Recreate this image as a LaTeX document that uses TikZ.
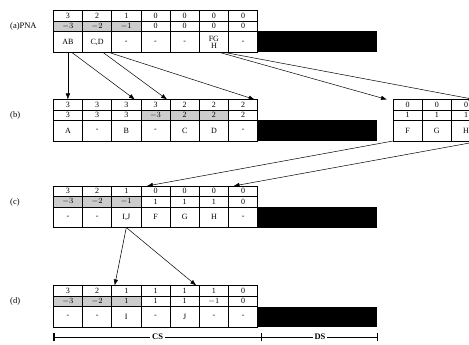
\documentclass[tikz,border=0pt]{standalone}
\usepackage{fontspec}
\setmainfont{Liberation Serif}
\usetikzlibrary{arrows.meta}
\newcommand\cw{29.2}
\tikzset{
  cell/.style={draw, line width=0.6pt, anchor=north west, minimum width=29.2pt, inner sep=0pt, outer sep=0pt, align=center, font=\fontsize{8}{7}\selectfont},
  shd/.style={fill=gray!40},
  nsh/.style={fill=white},
  conn/.style={line width=0.5pt, -{Latex[length=6pt,width=4.5pt]}},
  lbl/.style={anchor=west, font=\fontsize{8.5}{9}\selectfont, inner sep=0pt},
  blk/.style={fill=black}
}
% #1 prefix, #2 x0, #3 y top, #4 height, #5 value/style list
\newcommand\trow[5]{%
  \foreach \v/\s [count=\i] in {#5} {%
    \node[cell,\s,minimum height=#4pt] (#1-\i) at ({#2+(\i-1)*\cw},#3) {\v};}}
\begin{document}
\begin{tikzpicture}[x=1pt,y=-1pt]
\useasboundingbox (0,0) rectangle (469,345);
% (a)
\node[lbl] (la) at (10,26) {(a)PNA};
\trow{a1}{53.3}{10.5}{10.5}{3/nsh,2/nsh,1/nsh,0/nsh,0/nsh,0/nsh,0/nsh}
\trow{a2}{53.3}{21}{10.5}{{$-3$}/shd,{$-2$}/shd,{$-1$}/shd,0/nsh,0/nsh,0/nsh,0/nsh}
\trow{a3}{53.3}{31.5}{21}{AB/nsh,{C,D}/nsh,-/nsh,-/nsh,-/nsh,{FG\\H}/nsh,-/nsh}
\fill[blk] (257.7,31.5) rectangle (377,52.5);
% (b)
\node[lbl] (lb) at (10,115) {(b)};
\trow{b1}{53.3}{99.5}{10.5}{3/nsh,3/nsh,3/nsh,3/nsh,2/nsh,2/nsh,2/nsh}
\trow{b2}{53.3}{110}{10.5}{3/nsh,3/nsh,3/nsh,{$-3$}/shd,2/shd,2/shd,2/nsh}
\trow{b3}{53.3}{120.5}{20.5}{A/nsh,-/nsh,B/nsh,-/nsh,C/nsh,D/nsh,-/nsh}
\fill[blk] (257.7,120.5) rectangle (377,141);
% FGH table
\trow{f1}{393}{99.5}{10.5}{0/nsh,0/nsh,0/nsh}
\trow{f2}{393}{110}{10.5}{1/nsh,1/nsh,1/nsh}
\trow{f3}{393}{120.5}{20.5}{F/nsh,G/nsh,H/nsh}
% (c)
\node[lbl] (lc) at (10,202) {(c)};
\trow{c1}{53.3}{186}{10.5}{3/nsh,2/nsh,1/nsh,0/nsh,0/nsh,0/nsh,0/nsh}
\trow{c2}{53.3}{196.5}{10.5}{{$-3$}/shd,{$-2$}/shd,{$-1$}/shd,1/nsh,1/nsh,1/nsh,0/nsh}
\trow{c3}{53.3}{207}{20.5}{-/nsh,-/nsh,{I,J}/nsh,F/nsh,G/nsh,H/nsh,-/nsh}
\fill[blk] (257.7,207) rectangle (377,227.5);
% (d)
\node[lbl] (ld) at (10,301) {(d)};
\trow{d1}{53.3}{285.5}{10.5}{3/nsh,2/nsh,1/nsh,1/nsh,1/nsh,1/nsh,0/nsh}
\trow{d2}{53.3}{296}{10.5}{{$-3$}/shd,{$-2$}/shd,1/shd,1/nsh,1/nsh,{$-1$}/nsh,0/nsh}
\trow{d3}{53.3}{306.5}{20.5}{-/nsh,-/nsh,I/nsh,-/nsh,J/nsh,-/nsh,-/nsh}
\fill[blk] (257.7,306.5) rectangle (377,327);
% connectors (a) -> (b)
\draw[conn] ([xshift=0pt]a3-1.south) -- (b1-1.north);
\draw[conn] ([xshift=4pt]a3-1.south) -- ([xshift=-6pt]b1-3.north east);
\draw[conn] ([xshift=6pt]a3-2.south) -- ([xshift=-3pt]b1-4.north east);
\draw[conn] ([xshift=12pt]a3-2.south) -- ([xshift=-3pt]b1-7.north east);
\draw[conn] ([xshift=6pt]a3-6.south) -- ([xshift=-6pt]f1-1.north west);
\draw[conn] ([xshift=11pt]a3-6.south) -- ([xshift=-6pt]f1-3.north east);
% FGH -> (c)
\draw[conn] (f3-1.south west) -- ([xshift=6pt]c1-4.north west);
\draw[conn] (f3-3.south east) -- ([xshift=5pt]c1-7.north west);
% (c) -> (d)
\draw[conn] ([xshift=0pt]c3-3.south) -- ([xshift=3pt]d1-3.north west);
\draw[conn] ([xshift=0pt]c3-3.south) -- ([xshift=-3pt]d1-5.north east);
% CS / DS
\coordinate (s0) at (53.3,337);
\coordinate (s1) at (262,337);
\coordinate (s2) at (378,337);
\draw[line width=0.5pt, {Bar[width=8pt,line width=1.3pt]}-{Bar[width=8pt,line width=1.3pt]}] (s0) -- node[fill=white, inner sep=2pt, font=\bfseries\fontsize{8.5}{9}\selectfont] (cs) {CS} (s1);
\draw[line width=0.5pt, -{Bar[width=8pt,line width=1.3pt]}] (s1) -- node[fill=white, inner sep=2pt, font=\bfseries\fontsize{8.5}{9}\selectfont] (ds) {DS} (s2);
\end{tikzpicture}
\end{document}
